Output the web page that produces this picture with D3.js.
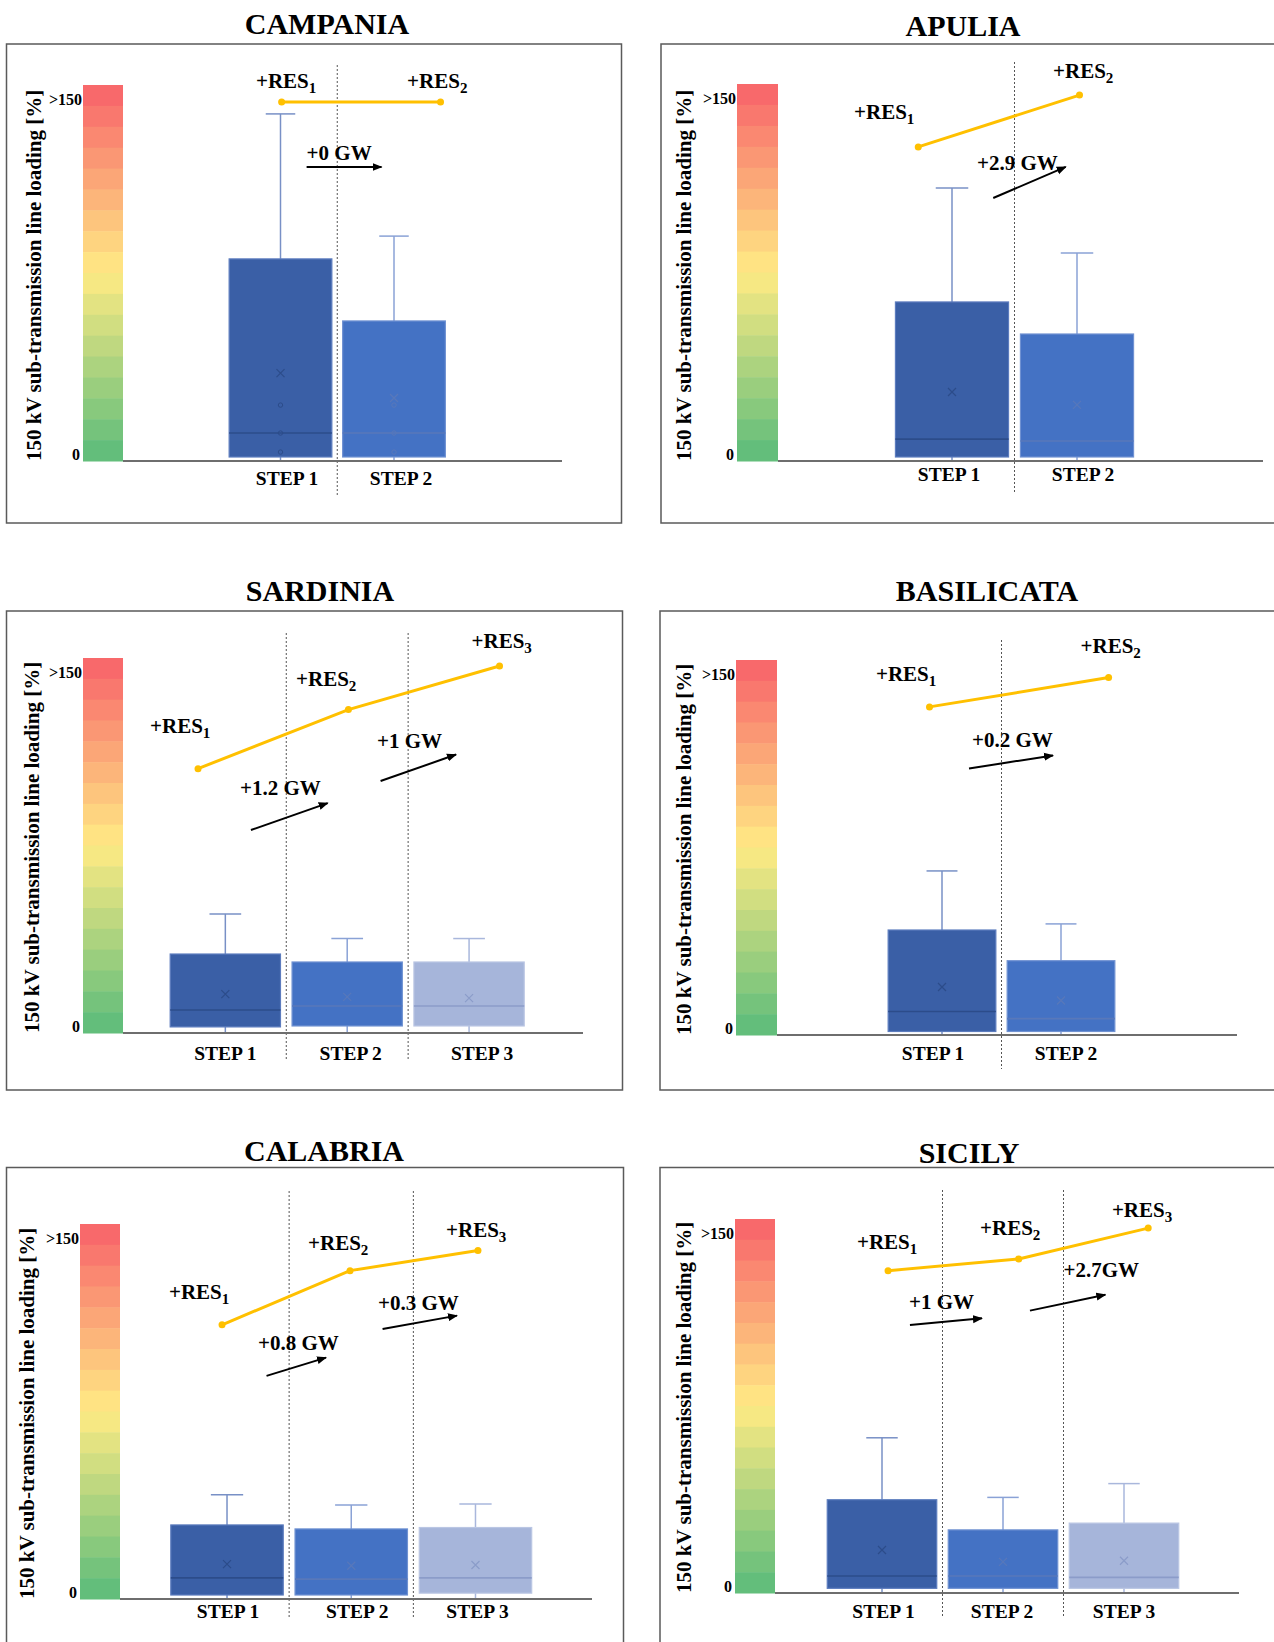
<!DOCTYPE html>
<html lang="en">
<head>
<meta charset="UTF-8">
<title>150 kV sub-transmission line loading</title>
<script src="https://cdn.jsdelivr.net/npm/d3@7"></script>
<style>
  body { margin: 0; background: #fff; }
  svg { display: block; font-family: "Liberation Serif", "Times New Roman", serif; }
</style>
</head>
<body>
<svg id="fig" width="1274" height="1642"></svg>
<script>
// ---- values (line loading, %) ----
const regions = ["CAMPANIA", "APULIA", "SARDINIA", "BASILICATA", "CALABRIA", "SICILY"];
const stepNames = ["STEP 1", "STEP 2", "STEP 3"];
const whiskerLow = [[0, 0], [0, 0], [0, 0, 0], [0, 0], [0, 0, 0], [0, 0, 0]];
const q1 = [[1.7, 1.7], [1.7, 1.7], [2.6, 3, 3], [1.5, 1.5], [1.7, 1.7, 2.5], [2, 2, 2]];
const median = [[11.9, 11.9], [9.3, 8.5], [9.8, 11.5, 11.5], [10, 7], [9, 8.5, 9], [7.3, 7.3, 6.7]];
const q3 = [[86, 59.6], [67.5, 53.9], [33.7, 30.3, 30.3], [44.8, 31.7], [31.6, 29.9, 30.5], [39.9, 27, 29.9]];
const whiskerHigh = [[147.7, 95.7], [115.9, 88.3], [50.8, 40.3, 40.3], [70, 47.4], [44.5, 40.1, 40.5], [66.4, 40.9, 46.8]];
const mean = [[37.4, 26.8], [29.3, 23.8], [16.6, 15.4, 14.9], [20.5, 14.7], [14.9, 14.2, 14.5], [18.4, 13.3, 13.8]];
const innerPoints = [[[3.8, 11.9, 23.8], [3.8, 11.9, 23.8]], [[], []], [[], [], []], [[], []], [[], [], []], [[], [], []]];
// RES level line (same vertical units) and GW added between steps
const resLevel = [[152.8, 152.8], [133.3, 155.3], [112.8, 138, 156.6], [140, 152.5], [117, 140.1, 148.7], [137.9, 142.9, 156.1]];
const gwAdded = [["+0 GW"], ["+2.9 GW"], ["+1.2 GW", "+1 GW"], ["+0.2 GW"], ["+0.8 GW", "+0.3 GW"], ["+1 GW", "+2.7GW"]];

// ---- layout of each panel (pixels) and annotation anchors (step, value) ----
const layout = [
  {frame: [6.5, 44, 615, 479], title: [327, 34], bar: [83, 123], barTop: 85, axisY: 461, axisEnd: 562,
   xr: [223.75, 450.75], dash: [65, 495], stepY: 485, labDx: [6.5, 7], yTitleX: 41,
   resX: [1.01, 2.41], resLab: [[0.784, 158.7], [2.115, 158.7]],
   arrows: [[1.23, 125.1, 1.89, 125.1]], gwLab: [[1.23, 128.1]]},
  {frame: [661, 44, 700, 479], title: [963, 36], bar: [737, 778], barTop: 84, axisY: 461, axisEnd: 1263,
   xr: [889.5, 1139.5], dash: [62, 492], stepY: 481, labDx: [-3, 6], yTitleX: 691,
   resX: [0.73, 2.02], resLab: [[0.216, 145.1], [1.808, 162.5]],
   arrows: [[1.33, 111.6, 1.91, 124.8]], gwLab: [[1.2, 123.5]]},
  {frame: [6.5, 611, 616, 479], title: [320, 601], bar: [83, 123], barTop: 658, axisY: 1033, axisEnd: 583,
   xr: [164.4, 530], dash: [633, 1059], stepY: 1060, labDx: [0, 3.5, 13], yTitleX: 39,
   resX: [0.776, 2.01, 3.25], resLab: [[0.382, 128], [1.58, 148.1], [3.02, 164.3]],
   arrows: [[1.21, 86.6, 1.84, 98.1], [2.274, 107.5, 2.893, 118.8]], gwLab: [[1.12, 101.6], [2.245, 121.4]]},
  {frame: [660, 611, 700, 479], title: [987, 601], bar: [736, 777], barTop: 660, axisY: 1035, axisEnd: 1237,
   xr: [882.5, 1120.5], dash: [640, 1069], stepY: 1060, labDx: [-9, 5], yTitleX: 691,
   resX: [0.895, 2.40], resLab: [[0.445, 151], [2.164, 163]],
   arrows: [[1.227, 113.7, 1.933, 119.3]], gwLab: [[1.252, 122.9]]},
  {frame: [6.5, 1167.5, 617, 500], title: [324, 1161], bar: [80, 120], barTop: 1224, axisY: 1599, axisEnd: 592,
   xr: [164.9, 537.6], dash: [1191, 1619], stepY: 1618, labDx: [1, 6, 2], yTitleX: 34,
   resX: [0.96, 1.99, 3.02], resLab: [[0.533, 128], [1.652, 148.7], [2.763, 154.5]],
   arrows: [[1.318, 95.2, 1.797, 103], [2.252, 115.2, 2.851, 120.9]], gwLab: [[1.25, 106.2], [2.215, 123.3]]},
  {frame: [660, 1167.5, 700, 500], title: [969, 1163], bar: [735, 775], barTop: 1219, axisY: 1593, axisEnd: 1239,
   xr: [821.5, 1184.5], dash: [1190, 1617], stepY: 1618, labDx: [1.5, -1, 0], yTitleX: 691,
   resX: [1.05, 2.13, 3.2], resLab: [[0.793, 147.2], [1.81, 153], [2.90, 160.9]],
   arrows: [[1.231, 114.7, 1.826, 117.5], [2.223, 120.8, 2.846, 127.6]], gwLab: [[1.223, 121.5], [2.5, 135.4]]}
];

const boxFill = ["#3A5FA6", "#4472C4", "#A6B5DA"];
const boxStroke = ["#5C7CBE", "#7092D2", "#BAC6E3"];
const medianCol = ["#2C4C8A", "#5878BA", "#8B9CC9"];
const whiskerCol = ["#7890C6", "#8AA2D6", "#A9B7DC"];
const nBands = 18;
const bandColor = t => t < 0.5
  ? d3.interpolateRgb("#F8696B", "#FFEB84")(t / 0.5)
  : d3.interpolateRgb("#FFEB84", "#63BE7B")((t - 0.5) / 0.5);

const svg = d3.select("#fig");
const defs = svg.append("defs");
defs.append("marker")
    .attr("id", "head")
    .attr("viewBox", "0 0 10 10")
    .attr("refX", 9).attr("refY", 5)
    .attr("markerWidth", 5).attr("markerHeight", 5)
    .attr("markerUnits", "strokeWidth")
    .attr("orient", "auto")
  .append("path").attr("d", "M0,1 L10,5 L0,9 z").attr("fill", "#000");

regions.forEach(function (name, p) {
    const L = layout[p];
    const n = q3[p].length;
    const g = svg.append("g");

    const y = d3.scaleLinear().domain([0, 160]).range([L.axisY, L.barTop]);
    const x = d3.scaleLinear().domain([0.5, n + 0.5]).range(L.xr);
    const spacing = (L.xr[1] - L.xr[0]) / n;
    const bw = spacing * 0.905, cw = spacing * 0.26;

    // frame + title
    g.append("rect")
        .attr("x", L.frame[0]).attr("y", L.frame[1])
        .attr("width", L.frame[2]).attr("height", L.frame[3])
        .attr("fill", "none").attr("stroke", "#5a5a5a").attr("stroke-width", 1.5);
    g.append("text")
        .attr("x", L.title[0]).attr("y", L.title[1])
        .attr("text-anchor", "middle")
        .attr("font-size", 30).attr("font-weight", "bold")
        .text(name);

    // colour bar
    const bandH = (L.axisY - L.barTop) / nBands;
    g.selectAll(".band").data(d3.range(nBands)).join("rect")
        .attr("x", L.bar[0]).attr("width", L.bar[1] - L.bar[0])
        .attr("y", i => L.barTop + i * bandH).attr("height", bandH + 0.5)
        .attr("fill", i => bandColor(i / (nBands - 1)));
    g.append("text")
        .attr("x", L.bar[0] - 1).attr("y", y(154))
        .attr("dy", "0.35em").attr("text-anchor", "end")
        .attr("font-size", 16).attr("font-weight", "bold").text(">150");
    g.append("text")
        .attr("x", L.bar[0] - 3).attr("y", y(3))
        .attr("dy", "0.35em").attr("text-anchor", "end")
        .attr("font-size", 16).attr("font-weight", "bold").text("0");
    g.append("text")
        .attr("transform", `translate(${L.yTitleX},${L.axisY}) rotate(-90)`)
        .attr("font-size", 21).attr("font-weight", "bold")
        .attr("text-anchor", "start")
        .text("150 kV sub-transmission line loading [%]");

    // step separators
    g.selectAll(".sep").data(d3.range(1, n)).join("line")
        .attr("x1", i => x(i + 0.5)).attr("x2", i => x(i + 0.5))
        .attr("y1", L.dash[0]).attr("y2", L.dash[1])
        .attr("stroke", "#555").attr("stroke-width", 1).attr("stroke-dasharray", "2,2");

    // boxes
    const steps = d3.range(n);
    const box = g.selectAll(".box").data(steps).join("g");
    box.append("line")
        .attr("x1", i => x(i + 1)).attr("x2", i => x(i + 1))
        .attr("y1", i => y(q3[p][i])).attr("y2", i => y(whiskerHigh[p][i]))
        .attr("stroke", i => whiskerCol[i]).attr("stroke-width", 1.5);
    box.append("line")
        .attr("x1", i => x(i + 1) - cw / 2).attr("x2", i => x(i + 1) + cw / 2)
        .attr("y1", i => y(whiskerHigh[p][i])).attr("y2", i => y(whiskerHigh[p][i]))
        .attr("stroke", i => whiskerCol[i]).attr("stroke-width", 1.5);
    box.append("line")
        .attr("x1", i => x(i + 1)).attr("x2", i => x(i + 1))
        .attr("y1", i => y(q1[p][i])).attr("y2", i => y(whiskerLow[p][i]))
        .attr("stroke", i => whiskerCol[i]).attr("stroke-width", 1.5);
    box.append("rect")
        .attr("x", i => x(i + 1) - bw / 2).attr("width", bw)
        .attr("y", i => y(q3[p][i]))
        .attr("height", i => y(q1[p][i]) - y(q3[p][i]))
        .attr("fill", i => boxFill[i])
        .attr("stroke", i => boxStroke[i]).attr("stroke-width", 1.2);
    box.append("line")
        .attr("x1", i => x(i + 1) - bw / 2).attr("x2", i => x(i + 1) + bw / 2)
        .attr("y1", i => y(median[p][i])).attr("y2", i => y(median[p][i]))
        .attr("stroke", i => medianCol[i]).attr("stroke-width", 1.6);
    box.append("path")
        .attr("d", i => {
            const cx = x(i + 1), cy = y(mean[p][i]), s = 4;
            return `M${cx - s},${cy - s}L${cx + s},${cy + s}M${cx - s},${cy + s}L${cx + s},${cy - s}`;
        })
        .attr("stroke", i => medianCol[i]).attr("stroke-width", 1.2).attr("fill", "none");
    box.each(function (i) {
        d3.select(this).selectAll("circle").data(innerPoints[p][i]).join("circle")
            .attr("cx", x(i + 1)).attr("cy", v => y(v)).attr("r", 2.2)
            .attr("fill", "none").attr("stroke", medianCol[i]).attr("stroke-width", 1);
    });

    // x axis line and step labels
    g.append("line")
        .attr("x1", L.bar[1]).attr("x2", L.axisEnd)
        .attr("y1", L.axisY).attr("y2", L.axisY)
        .attr("stroke", "#6e6e6e").attr("stroke-width", 2);
    g.selectAll(".stepLab").data(steps).join("text")
        .attr("x", i => x(i + 1) + L.labDx[i]).attr("y", L.stepY)
        .attr("text-anchor", "middle")
        .attr("font-size", 19.5).attr("font-weight", "bold")
        .text(i => stepNames[i]);

    // RES line
    const res = resLevel[p].map((v, i) => [x(L.resX[i]), y(v)]);
    g.append("path")
        .attr("d", d3.line()(res))
        .attr("fill", "none").attr("stroke", "#FFC000").attr("stroke-width", 3);
    g.selectAll(".resDot").data(res).join("circle")
        .attr("cx", d => d[0]).attr("cy", d => d[1]).attr("r", 3.5)
        .attr("fill", "#FFC000");
    resLevel[p].forEach(function (v, i) {
        const t = g.append("text")
            .attr("x", x(L.resLab[i][0])).attr("y", y(L.resLab[i][1]))
            .attr("font-size", 21).attr("font-weight", "bold");
        t.append("tspan").text("+RES");
        t.append("tspan").attr("font-size", 15).attr("dy", 5).text(i + 1);
    });

    // GW arrows
    gwAdded[p].forEach(function (lab, k) {
        const a = L.arrows[k];
        g.append("line")
            .attr("x1", x(a[0])).attr("y1", y(a[1]))
            .attr("x2", x(a[2])).attr("y2", y(a[3]))
            .attr("stroke", "#000").attr("stroke-width", 2)
            .attr("marker-end", "url(#head)");
        g.append("text")
            .attr("x", x(L.gwLab[k][0])).attr("y", y(L.gwLab[k][1]))
            .attr("font-size", 21).attr("font-weight", "bold")
            .text(lab);
    });
});
</script>
</body>
</html>
